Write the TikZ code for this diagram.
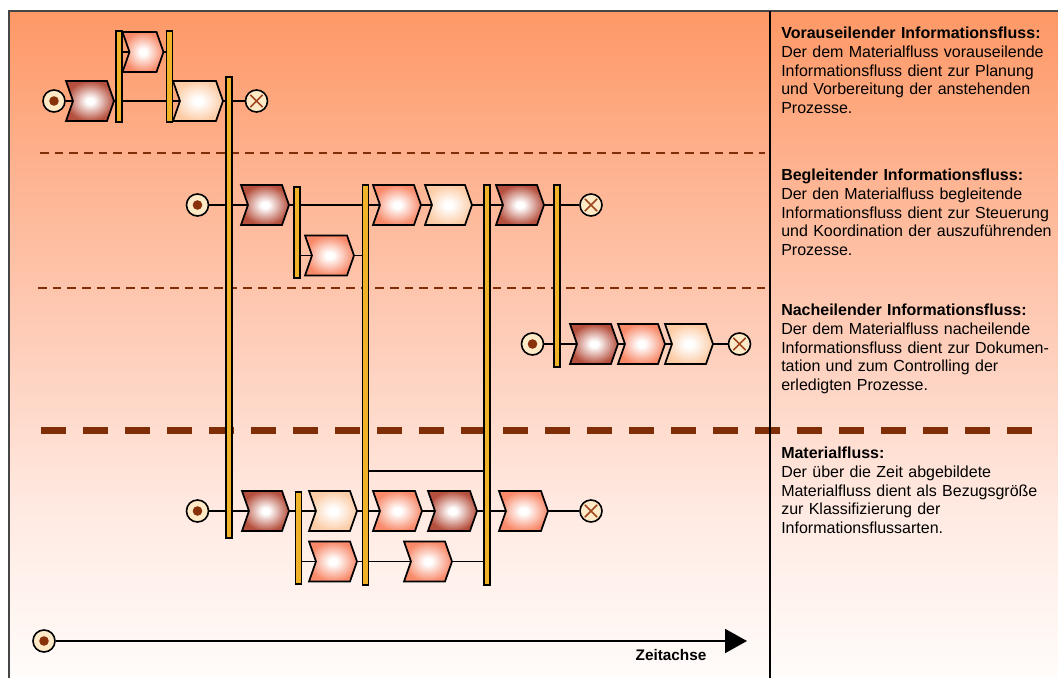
\documentclass[tikz,border=0pt]{standalone}
\usepackage{fontspec}
\setmainfont{Liberation Sans}
\usetikzlibrary{arrows.meta}
\definecolor{bgtop}{RGB}{254,152,102}
\definecolor{bgq1}{RGB}{254,180,146}
\definecolor{bgmid}{RGB}{254,206,186}
\definecolor{bgq3}{RGB}{255,234,226}
\definecolor{bgbot}{RGB}{255,252,250}
\definecolor{cdark}{RGB}{182,80,62}
\definecolor{cpink}{RGB}{248,138,106}
\definecolor{ccream}{RGB}{252,204,166}
\definecolor{barfill}{RGB}{240,178,40}
\definecolor{circfill}{RGB}{255,234,200}
\definecolor{dotcol}{RGB}{135,50,10}
\definecolor{xcol}{RGB}{160,70,30}
\definecolor{dashcol}{RGB}{128,46,8}
\definecolor{framecol}{RGB}{70,70,70}
\pgfdeclareverticalshading{bgshade}{100bp}{color(0bp)=(bgbot); color(25bp)=(bgbot); color(37.5bp)=(bgq3); color(50bp)=(bgmid); color(62.5bp)=(bgq1); color(75bp)=(bgtop); color(100bp)=(bgtop)}
\pgfdeclareradialshading{shdark}{\pgfpoint{0bp}{0bp}}{color(0bp)=(white); color(4bp)=(white); color(25bp)=(cdark); color(50bp)=(cdark)}
\pgfdeclareradialshading{shpink}{\pgfpoint{0bp}{0bp}}{color(0bp)=(white); color(4bp)=(white); color(25bp)=(cpink); color(50bp)=(cpink)}
\pgfdeclareradialshading{shcream}{\pgfpoint{0bp}{0bp}}{color(0bp)=(white); color(4bp)=(white); color(25bp)=(ccream); color(50bp)=(ccream)}
\pgfdeclarelayer{bg}
\pgfdeclarelayer{lines}
\pgfsetlayers{bg,lines,main}
\tikzset{
  chevbox/.style={rectangle, draw=none, fill=none, inner sep=0pt, minimum height=30pt},
  chevline/.style={draw=black, line width=1.3pt, line join=miter},
  barbox/.style={rectangle, draw=black, line width=1pt, fill=barfill, inner sep=0pt, minimum width=4.6pt},
  startc/.style={circle, draw=black, line width=1.2pt, fill=circfill, minimum size=16.5pt, inner sep=0pt,
    path picture={\fill[dotcol] (path picture bounding box.center) circle (3.6pt);}},
  endc/.style={circle, draw=black, line width=1.2pt, fill=circfill, minimum size=16.5pt, inner sep=0pt,
    path picture={\draw[xcol, line width=1.1pt]
      ([shift={(-4.6pt,-4.6pt)}]path picture bounding box.center) -- ([shift={(4.6pt,4.6pt)}]path picture bounding box.center)
      ([shift={(-4.6pt,4.6pt)}]path picture bounding box.center) -- ([shift={(4.6pt,-4.6pt)}]path picture bounding box.center);}},
  conn/.style={draw=black, line width=1.2pt},
  thindash/.style={draw=dashcol, line width=1.9pt, dash pattern=on 6.5pt off 4.5pt},
  thickdash/.style={draw=dashcol, line width=5.25pt, dash pattern=on 18.75pt off 12.75pt},
  infotext/.style={anchor=base west, text width=215pt, align=left, inner sep=0pt, font=\fontsize{12}{14.1}\selectfont},
}
% name, xc, yc, width(px), shading
\newcommand\Chev[5]{%
  \node[chevbox, minimum width={#4*0.75pt}] (#1) at (#2,#3) {};
  \path[chevline, shade, shading=#5] ({#2-#4/2},{#3-20}) -- ({#2+#4/2-7},{#3-20}) -- ({#2+#4/2},#3) -- ({#2+#4/2-7},{#3+20}) -- ({#2-#4/2},{#3+20}) -- ({#2-#4/2+7},#3) -- cycle;
}
% name, xc, ytop, ybottom
\newcommand\Bar[4]{\node[barbox, minimum height={(#4-#3)*0.75pt}] (#1) at (#2,{(#3+#4)/2}) {};}
\begin{document}
\begin{tikzpicture}[x=0.75pt,y=-0.75pt]
\useasboundingbox (0,0) rectangle (1058,678);
\begin{pgfonlayer}{bg}
  \fill[white] (0,0) rectangle (1058,678);
  \shade[shading=bgshade] (9,11) rectangle (1058,678);
  \draw[thindash] (40,153) -- (765,153);
  \draw[thindash] (38,288) -- (765,288);
  \draw[thickdash] (41,430) -- (1032,430);
\end{pgfonlayer}
% frame and separator
\draw[framecol, line width=1.2pt] (9,678) -- (9,11) -- (1058,11);
\draw[black, line width=1.2pt] (770,11) -- (770,678);

% Row 1
\node[startc] (s1) at (54,101) {};
\Chev{c11}{90}{101}{48}{shdark}
\Bar{b11}{119}{31}{122}
\Chev{c12}{143}{52}{41}{shpink}
\Bar{b12}{169.5}{31}{122}
\Chev{c13}{198}{101}{50}{shcream}
\Bar{b13}{229}{77}{538}
\node[endc] (e1) at (256.5,101) {};

% Row 2
\node[startc] (s2) at (197.5,205) {};
\Chev{c21}{265}{205}{48}{shdark}
\Bar{b21}{297}{187}{278}
\Chev{c22}{329.5}{255.5}{49}{shpink}
\Bar{b22}{365.5}{185}{585}
\Chev{c23}{397}{205}{48}{shpink}
\Chev{c24}{448.5}{205}{47}{shcream}
\Bar{b23}{487}{185}{585}
\Chev{c25}{520}{205}{48}{shdark}
\Bar{b24}{557}{185}{367}
\node[endc] (e2) at (591,205) {};

% Row 3
\node[startc] (s3) at (532.5,344) {};
\Chev{c31}{594}{344}{48}{shdark}
\Chev{c32}{641.5}{344}{47}{shpink}
\Chev{c33}{689}{344}{48}{shcream}
\node[endc] (e3) at (739.5,344) {};

% Row 4
\node[startc] (s4) at (197.5,511) {};
\Chev{c41}{265.5}{511}{47}{shdark}
\Bar{b41}{298.5}{492}{584}
\Chev{c42}{333}{511}{48}{shcream}
\Chev{c43}{333}{561.5}{48}{shpink}
\Chev{c44}{397.5}{511}{49}{shpink}
\Chev{c45}{452.5}{511}{49}{shdark}
\Chev{c46}{428}{561.5}{48}{shpink}
\Chev{c47}{523.5}{511}{49}{shpink}
\node[endc] (e4) at (591,511) {};
\coordinate (m4) at (425,471);

\begin{pgfonlayer}{lines}
  \draw[conn] (s1) -- (e1);
  \draw[conn] (b11.east |- c12) -- (b12.west |- c12);
  \draw[conn] (s2) -- (e2);
  \draw[conn] (b21.east |- c22) -- (b22.west |- c22);
  \draw[conn] (s3) -- (e3);
  \draw[conn] (s4) -- (e4);
  \draw[conn] (b22.east |- m4) -- (b23.west |- m4);
  \draw[conn] (b41.east |- c43) -- (b23.west |- c43);
\end{pgfonlayer}

% Time axis
\node[startc] (t0) at (44,641) {};
\coordinate (tend) at (747,641);
\draw[line width=1.5pt, -{Triangle[length=16.5pt,width=18pt]}] (t0) -- (tend);
\node[font=\bfseries\fontsize{11.5}{13}\selectfont, inner sep=0pt] (zl) at (671,655) {Zeitachse};

% Right panel texts
\node[infotext] (t1) at (781,38.5) {\textbf{Vorauseilender Informationsfluss:}\\Der dem Materialfluss vorauseilende\\Informationsfluss dient zur Planung\\und Vorbereitung der anstehenden\\Prozesse.};
\node[infotext] (t2) at (781,180.5) {\textbf{Begleitender Informationsfluss:}\\Der den Materialfluss begleitende\\Informationsfluss dient zur Steuerung\\und Koordination der auszuführenden\\Prozesse.};
\node[infotext] (t3) at (781,315.5) {\textbf{Nacheilender Informationsfluss:}\\Der dem Materialfluss nacheilende\\Informationsfluss dient zur Dokumen-\\tation und zum Controlling der\\erledigten Prozesse.};
\node[infotext] (t4) at (781,458.5) {\textbf{Materialfluss:}\\Der über die Zeit abgebildete\\Materialfluss dient als Bezugsgröße\\zur Klassifizierung der\\Informationsflussarten.};
\end{tikzpicture}
\end{document}
